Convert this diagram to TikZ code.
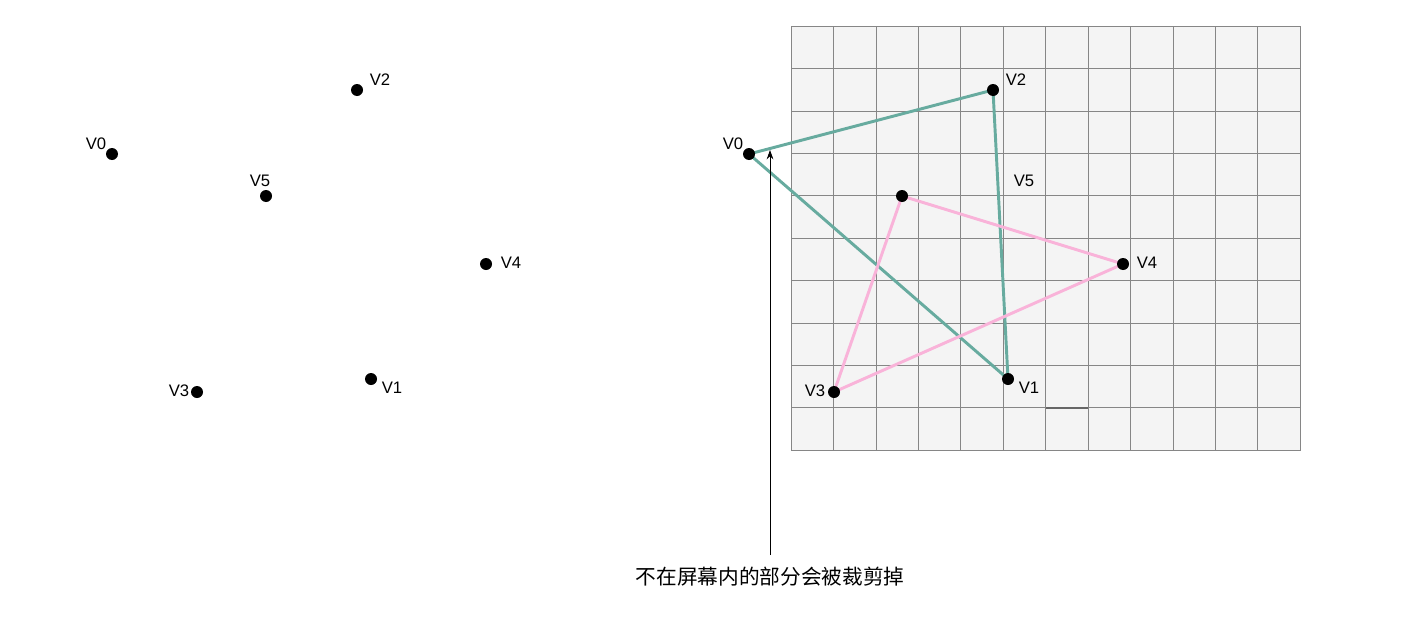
\documentclass[tikz,border=0pt]{standalone}
\usepackage{fontspec}
\setmainfont{Liberation Sans}
\newfontfamily\cjk{Noto Sans CJK SC}
\usetikzlibrary{arrows.meta}
\definecolor{tealline}{HTML}{67AB9F}
\definecolor{pinkline}{HTML}{F9B3D9}
\definecolor{gridfill}{HTML}{F4F4F4}
\definecolor{gridline}{HTML}{868686}
\begin{document}
\begin{tikzpicture}[x=0.75pt,y=-0.75pt,
    declare function={cw=509/12; ch=424/10;},
    vtx/.style={circle,fill=black,inner sep=0pt,minimum size=9pt},
    vlab/.style={font=\fontsize{12.5}{14}\selectfont,inner sep=0pt},
    edge/.style={line width=2.2pt}]
        \useasboundingbox (0,0) rectangle (1402,628);
        % points before clipping
        \coordinate (A0) at (112,154);
        \coordinate (A1) at (371,379);
        \coordinate (A2) at (357,90);
        \coordinate (A3) at (197,392);
        \coordinate (A4) at (486,264);
        \coordinate (A5) at (266,196);
        % points on the screen
        \coordinate (B0) at (749,154);
        \coordinate (B1) at (1008,379);
        \coordinate (B2) at (993,90);
        \coordinate (B3) at (834,392);
        \coordinate (B4) at (1123,264);
        \coordinate (B5) at (902,196);
        % screen grid
        \filldraw[fill=gridfill,draw=gridline] (791,26) rectangle (1300,450);
        \foreach \i in {1,...,11}
            \draw[gridline] (791+\i*cw,26) -- (791+\i*cw,450);
        \foreach \j in {1,...,9}
            \draw[gridline] (791,26+\j*ch) -- (1300,26+\j*ch);
        \draw[black!60,line width=1pt] (1046,408) -- (1088,408);
        % triangles
        \draw[edge,tealline] (B0) -- (B2) -- (B1) -- cycle;
        \draw[edge,pinkline] (B5) -- (B4) -- (B3) -- cycle;
        \foreach \k in {0,...,5} {
            \node[vtx] (a\k) at (A\k) {};
            \node[vtx] (b\k) at (B\k) {};
        }
        \node[vlab] (la0) at (96,144) {V0};
        \node[vlab] (la1) at (392,388) {V1};
        \node[vlab] (la2) at (380,80) {V2};
        \node[vlab] (la3) at (179,391) {V3};
        \node[vlab] (la4) at (511,263) {V4};
        \node[vlab] (la5) at (260,181) {V5};
        \node[vlab] (lb0) at (733,144) {V0};
        \node[vlab] (lb1) at (1029,388) {V1};
        \node[vlab] (lb2) at (1016,80) {V2};
        \node[vlab] (lb3) at (815,391) {V3};
        \node[vlab] (lb4) at (1147,263) {V4};
        \node[vlab] (lb5) at (1024,181) {V5};
        % note
        \node[font=\cjk\fontsize{15.5}{18}\selectfont] (note) at (770,577) {不在屏幕内的部分会被裁剪掉};
        \coordinate (tip) at (770,150);
        \draw[-{Stealth[length=7pt,width=5pt]},line width=0.6pt] (770,555) -- (tip);
\end{tikzpicture}
\end{document}
